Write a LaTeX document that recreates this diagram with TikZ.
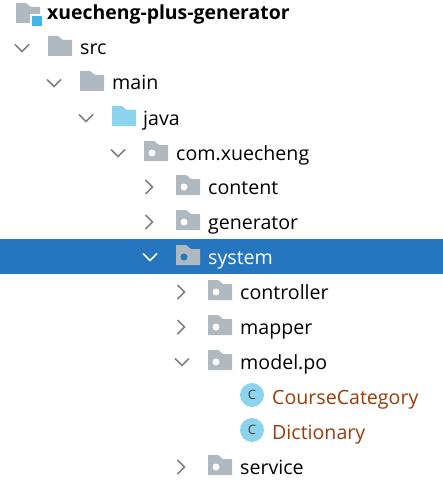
\documentclass[tikz,border=0pt]{standalone}
\usepackage{fontspec}
\setmainfont{Open Sans}
\definecolor{fold}{HTML}{B0B9BF}
\definecolor{jblue}{HTML}{8CD3EE}
\definecolor{sel}{HTML}{2675BF}
\definecolor{chev}{HTML}{808080}
\definecolor{brownc}{HTML}{9C3A0A}
\definecolor{rootb}{HTML}{40B6E0}
\tikzset{
  lbl/.style={anchor=base west,inner sep=0pt,font=\fontsize{19.6}{21}\selectfont,text=black},
  clsicon/.style={circle,fill=jblue,minimum size=24pt,inner sep=0pt,text=black!75,font=\fontsize{13}{13}\selectfont},
  chevline/.style={draw=chev,line width=1.6pt,fill=none},
  pics/foldericon/.style={code={
    \fill[#1] (0,-12) -- (10,-12) -- (15,-8) -- (24,-8) -- (24,8) -- (0,8) -- cycle;
  }},
  pics/pkgicon/.style 2 args={code={
    \fill[#1] (0,-12) -- (10,-12) -- (15,-8) -- (24,-8) -- (24,8) -- (0,8) -- cycle;
    \fill[#2] (8,0) circle (3.5);
  }},
  pics/chevdown/.style={code={\draw[chevline,#1] (-7,-3.5) -- (0,3.5) -- (7,-3.5);}},
  pics/chevright/.style={code={\draw[chevline,#1] (-3.5,-7) -- (3.5,0) -- (-3.5,7);}},
}
\begin{document}
\begin{tikzpicture}[x=1pt,y=-1pt]
\useasboundingbox (0,0) rectangle (443,484);
\fill[white] (0,0) rectangle (443,484);
\fill[sel] (0,239) rectangle (443,274);
% root
\pic at (16,15) {foldericon=fold};
\fill[white] (30,14) rectangle (43,27);
\fill[rootb] (32,16) rectangle (42,26);
\node[lbl,font=\fontsize{19.4}{21}\selectfont\bfseries] (root) at (47,19.5) {xuecheng-plus-generator};
% tree
\pic at (22,48) {chevdown};
\pic at (48,48) {foldericon=fold};
\node[lbl] (src) at (80,55) {src};
\pic at (54,83) {chevdown};
\pic at (80,83) {foldericon=fold};
\node[lbl] (main) at (112,90) {main};
\pic at (86,118) {chevdown};
\pic at (112,118) {foldericon=jblue};
\node[lbl] (java) at (143,125) {java};
\pic at (118,153) {chevdown};
\pic at (144,153) {pkgicon={fold}{white}};
\node[lbl] (com) at (176,160) {com.xuecheng};
\pic at (149,187) {chevright};
\pic at (176,187) {pkgicon={fold}{white}};
\node[lbl] (content) at (208,194) {content};
\pic at (149,222) {chevright};
\pic at (176,222) {pkgicon={fold}{white}};
\node[lbl] (generator) at (208,229) {generator};
\pic at (150,257) {chevdown={white}};
\pic at (176,257) {pkgicon={fold}{sel}};
\node[lbl,text=white] (system) at (208,264) {system};
\pic at (181,292) {chevright};
\pic at (208,292) {pkgicon={fold}{white}};
\node[lbl] (controller) at (240,299) {controller};
\pic at (181,327) {chevright};
\pic at (208,327) {pkgicon={fold}{white}};
\node[lbl] (mapper) at (240,334) {mapper};
\pic at (182,362) {chevdown};
\pic at (208,362) {pkgicon={fold}{white}};
\node[lbl] (modelpo) at (240,369) {model.po};
\node[clsicon] (c1) at (252,395) {C};
\node[lbl,text=brownc] (cc) at (272,404) {CourseCategory};
\node[clsicon] (c2) at (252,430) {C};
\node[lbl,text=brownc] (dict) at (272,439) {Dictionary};
\pic at (181,467) {chevright};
\pic at (208,467) {pkgicon={fold}{white}};
\node[lbl] (service) at (240,474) {service};
\end{tikzpicture}
\end{document}
